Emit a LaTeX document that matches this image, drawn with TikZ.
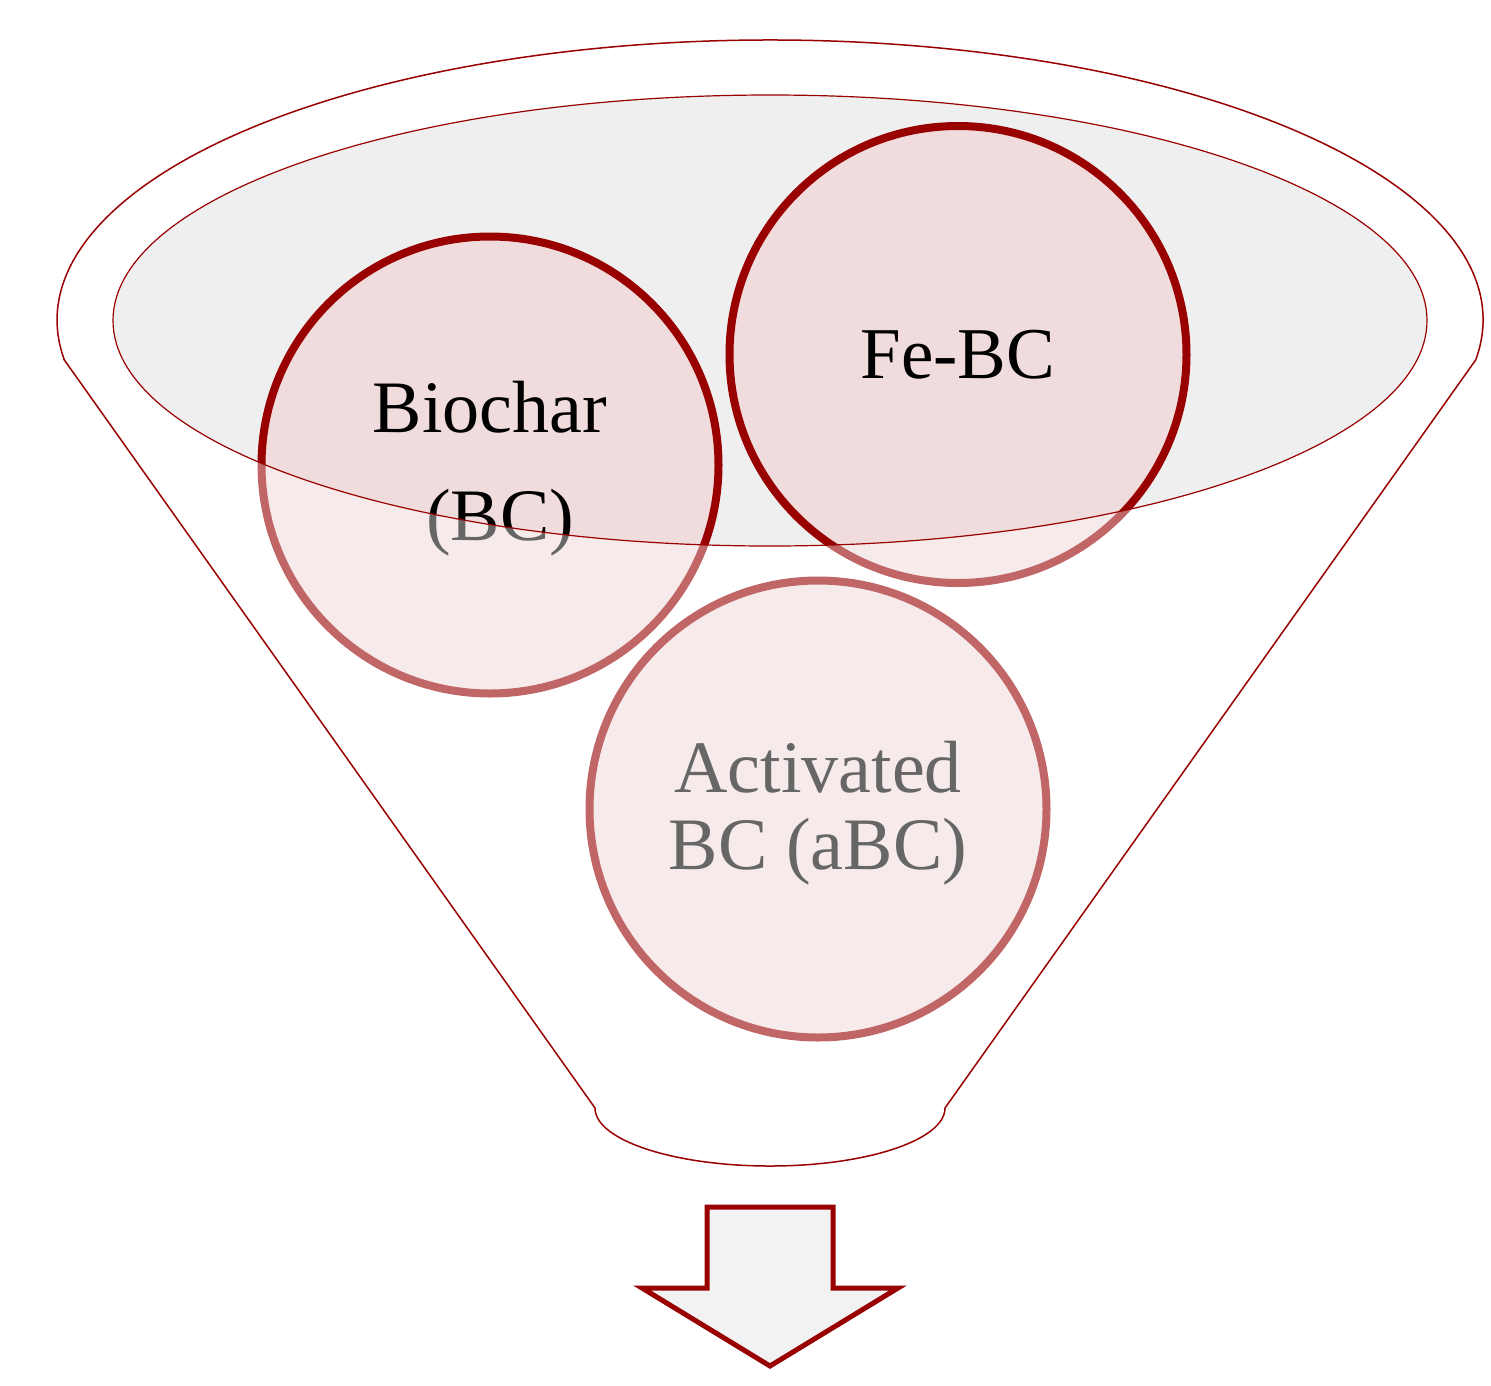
\documentclass[tikz,border=0pt]{standalone}
\usepackage{fontspec}
\setmainfont{Liberation Serif}
\usetikzlibrary{positioning}

\definecolor{funnelred}{HTML}{990000}
\definecolor{cupgray}{HTML}{EFEFEF}
\definecolor{ballpink}{HTML}{F0DCDC}
\definecolor{arrowgray}{HTML}{F2F2F2}

% outline of the funnel body, top rim to spout
\newcommand{\funnelbody}{(64.3,359.9) -- (595,1108)
    arc[start angle=180, end angle=0, x radius=175, y radius=58]
    -- (1475.7,359.9)
    arc[start angle=8.2, end angle=-188.2, x radius=713, y radius=280]
    -- cycle}
% taller first line, pushes the text block down a little
\newcommand{\tallline}{\rule{0pt}{59pt}}

\begin{document}
\begin{tikzpicture}[x=1pt, y=-1pt,
    ball/.style={circle, draw=funnelred, line width=8pt, fill=ballpink,
                 minimum size=457pt, inner sep=0pt, align=center},
    rim/.style={draw=funnelred, line width=1.5pt}]

    \useasboundingbox (0,0) rectangle (1491,1385);

    % Cup
    \fill[cupgray] (770,320.5) ellipse [x radius=657, y radius=225.5];

    % Nodes
    \node[ball, font=\fontsize{74}{108}\selectfont] (bc)  at (490,465)
        {\tallline Biochar\\\hspace*{20pt}(BC)}; %
    \node[ball, font=\fontsize{73}{88}\selectfont]  (fe)  at (958,354.5) {Fe-BC}; %
    \node[ball, font=\fontsize{74}{77}\selectfont]  (abc) at (818,809)
        {\tallline Activated\\BC (aBC)}; %

    % Funnel body fades what lies below the rim
    \fill[white, fill opacity=0.4, even odd rule] \funnelbody
        (770,320.5) ellipse [x radius=657, y radius=225.5];

    % Rims
    \draw[rim, line width=1.2pt] (770,320.5) ellipse [x radius=657, y radius=225.5];
    \draw[rim] \funnelbody;

    % Outlet arrow
    \draw[funnelred, fill=arrowgray, line width=5pt, miter limit=4]
        (707,1207) -- (833,1207) -- (833,1288) -- (898,1288)
        -- (770,1366) -- (642,1288) -- (707,1288) -- cycle;

\end{tikzpicture}
\end{document}
